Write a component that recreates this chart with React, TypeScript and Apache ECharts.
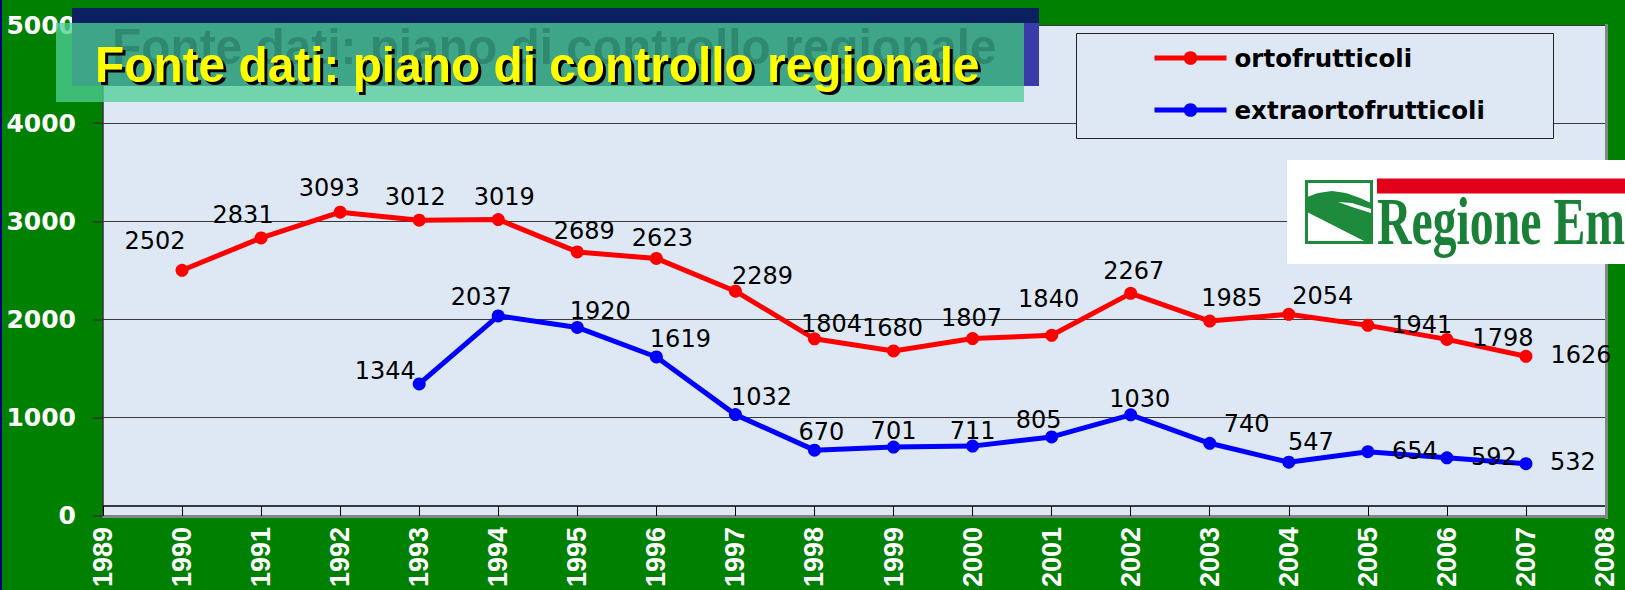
import React, { useEffect, useRef } from "react";
import * as echarts from "echarts";

const years = ["1989","1990","1991","1992","1993","1994","1995","1996","1997","1998","1999","2000","2001","2002","2003","2004","2005","2006","2007","2008"];
const yTicks = [0, 1000, 2000, 3000, 4000, 5000];
const ortofrutticoli = [null, 2502, 2831, 3093, 3012, 3019, 2689, 2623, 2289, 1804, 1680, 1807, 1840, 2267, 1985, 2054, 1941, 1798, 1626, null];
const extraortofrutticoli = [null, null, null, null, 1344, 2037, 1920, 1619, 1032, 670, 701, 711, 805, 1030, 740, 547, 654, 592, 532, null];
const seriesNames = ["ortofrutticoli", "extraortofrutticoli"];
const titleText = "Fonte dati: piano di controllo regionale";
const logoText = "Regione Em";

// label placement (styling only): offsets of each data label from its point
const redLabelOffsets: (number[] | null)[] = [null, [-27, -29], [-18, -23], [-11, -24], [-4, -23], [6, -23], [7, -21], [6, -20], [27, -15], [17, -15], [-1, -23], [-1, -21], [-3, -36], [3, -22], [22, -23], [34, -18], [54, 0], [56, -1], [55, -1], null];
const blueLabelOffsets: (number[] | null)[] = [null, null, null, null, [-34, -13], [-17, -19], [23, -16], [24, -18], [26, -18], [7, -18], [0, -16], [0, -15], [-13, -17], [9, -16], [37, -19], [22, -20], [47, -1], [47, -1], [47, -2], null];

function buildData(values: (number | null)[], offsets: (number[] | null)[]) {
  return values.map((v, i) =>
    v == null ? "-" : { value: v, label: { offset: offsets[i] || [0, -20] } }
  );
}

export default function App() {
  const ref = useRef<HTMLDivElement>(null);
  useEffect(() => {
    if (!ref.current) return;
    const chart = echarts.init(ref.current, null, { renderer: "svg", width: 1625, height: 590 });
    const labelStyle = {
      show: true,
      position: "inside",
      color: "#000",
      fontFamily: "DejaVu Sans",
      fontSize: 24,
      formatter: (p: any) => String(p.value),
    };
    const titleFont = { fontFamily: "Liberation Sans", fontWeight: "bold", fontSize: 46, align: "left", verticalAlign: "middle" };
    chart.setOption({
      animation: false,
      backgroundColor: "#008000",
      grid: {
        left: 103,
        right: 20,
        top: 25,
        bottom: 74,
        show: true,
        backgroundColor: "#dee8f4",
        borderWidth: 0,
      },
      legend: {
        data: seriesNames,
        orient: "vertical",
        left: 1152,
        top: 43,
        padding: 0,
        itemWidth: 72,
        itemHeight: 17,
        itemGap: 22,
        lineStyle: { width: 5 },
        textStyle: {
          color: "#000",
          fontFamily: "DejaVu Sans",
          fontWeight: "bold",
          fontSize: 24.5,
          lineHeight: 30,
          padding: [0, 0, 0, 3],
        },
      },
      xAxis: {
        type: "category",
        data: years,
        boundaryGap: false,
        axisLine: { show: true, lineStyle: { color: "#858585", width: 3 } },
        axisTick: { show: true, inside: true, length: 10, lineStyle: { color: "#000", width: 1 } },
        axisLabel: {
          rotate: 90,
          margin: 11,
          color: "#fff",
          fontFamily: "Liberation Sans",
          fontWeight: "bold",
          fontSize: 27,
          interval: 0,
        },
        splitLine: { show: false },
      },
      yAxis: {
        type: "value",
        min: yTicks[0],
        max: yTicks[yTicks.length - 1],
        interval: 1000,
        axisLine: { show: true, lineStyle: { color: "#333", width: 1.5 } },
        axisTick: { show: true, length: 10, lineStyle: { color: "#333", width: 1.5 } },
        axisLabel: {
          margin: 27,
          color: "#fff",
          fontFamily: "DejaVu Sans",
          fontWeight: "bold",
          fontSize: 25,
          formatter: (v: number) => String(v),
        },
        splitLine: { show: true, lineStyle: { color: "#3a3a3a", width: 1 } },
      },
      series: [
        {
          name: seriesNames[0],
          type: "line",
          data: buildData(ortofrutticoli, redLabelOffsets),
          symbol: "circle",
          symbolSize: 13,
          lineStyle: { color: "#ff0000", width: 5 },
          itemStyle: { color: "#ff0000" },
          label: labelStyle,
          z: 3,
        },
        {
          name: seriesNames[1],
          type: "line",
          data: buildData(extraortofrutticoli, blueLabelOffsets),
          symbol: "circle",
          symbolSize: 13,
          lineStyle: { color: "#0000ff", width: 5 },
          itemStyle: { color: "#0000ff" },
          label: labelStyle,
          z: 3,
        },
      ],
      graphic: [
        { type: "rect", z: 1, shape: { x: 0, y: 0, width: 2, height: 590 }, style: { fill: "#000080" } },
        { type: "rect", z: 1, shape: { x: 1605, y: 24, width: 3, height: 495 }, style: { fill: "#858585" } },
        { type: "line", z: 5, shape: { x1: 103, y1: 506, x2: 1605, y2: 506 }, style: { stroke: "#000", lineWidth: 1.5 } },
        // legend frame
        { type: "rect", z: 3, shape: { x: 1076.5, y: 33.5, width: 477, height: 105 }, style: { fill: "#dee8f4", stroke: "#222", lineWidth: 1 } },
        // logo
        { type: "rect", z: 6, shape: { x: 1287, y: 160, width: 340, height: 104 }, style: { fill: "#ffffff" } },
        { type: "rect", z: 6, shape: { x: 1306.5, y: 181.5, width: 65, height: 61 }, style: { fill: "#ffffff", stroke: "#1d8a3c", lineWidth: 3 } },
        {
          type: "polygon", z: 6,
          shape: { points: [[1307, 197], [1318, 193], [1332, 191], [1346, 193], [1360, 198], [1371, 203], [1371, 242], [1366, 242], [1307, 212]] },
          style: { fill: "#1d8a3c" },
        },
        {
          type: "polygon", z: 6,
          shape: { points: [[1338, 202], [1352, 203], [1371, 209], [1371, 213], [1352, 207]] },
          style: { fill: "#ffffff" },
        },
        { type: "rect", z: 6, shape: { x: 1377, y: 178.5, width: 250, height: 15 }, style: { fill: "#e2001a" } },
        {
          type: "text", z: 6, x: 1377, y: 222, scaleX: 0.735, scaleY: 1.03,
          style: { text: logoText, fill: "#1a8038", fontFamily: "Liberation Serif", fontWeight: "bold", fontSize: 65, align: "left", verticalAlign: "middle" },
        },
        // title box
        { type: "rect", z: 100, shape: { x: 72, y: 8, width: 967, height: 78 }, style: { fill: "#0a2060" } },
        { type: "rect", z: 100, shape: { x: 1024, y: 23, width: 15, height: 63 }, style: { fill: "#3a3aa8" } },
        { type: "rect", z: 100, shape: { x: 56, y: 23, width: 968, height: 79 }, style: { fill: "rgba(79,206,150,0.77)" } },
        {
          type: "text", z: 100, x: 112, y: 46, scaleX: 1.04, scaleY: 1.1,
          style: { text: titleText, fill: "rgba(0,50,40,0.25)", ...titleFont },
        },
        {
          type: "text", z: 100, x: 98, y: 67, scaleX: 1.04, scaleY: 1.1,
          style: { text: titleText, fill: "#000000", ...titleFont },
        },
        {
          type: "text", z: 100, x: 95, y: 64, scaleX: 1.04, scaleY: 1.1,
          style: { text: titleText, fill: "#ffff00", ...titleFont },
        },
      ],
    });
    return () => chart.dispose();
  }, []);
  return <div ref={ref} style={{ position: "absolute", left: 0, top: 0, width: 1625, height: 590 }} />;
}
